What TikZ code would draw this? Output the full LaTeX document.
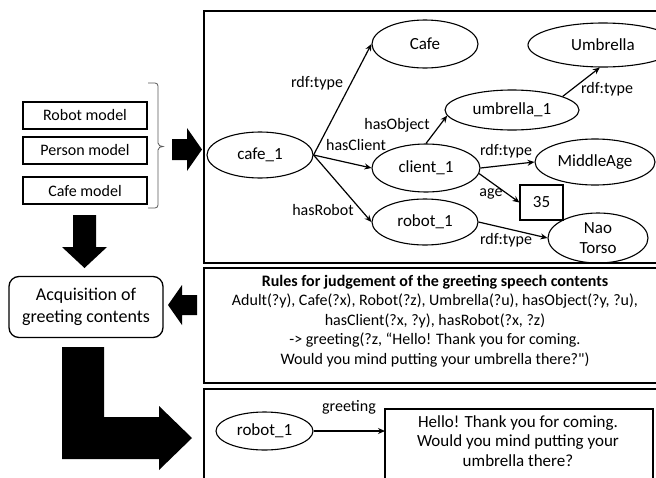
\documentclass[tikz,border=0pt]{standalone}
\usepackage{fontspec}
\setmainfont{Carlito}[Ligatures=TeXOff]
\usetikzlibrary{arrows.meta,shapes.geometric}
\begin{document}
\begin{tikzpicture}[x=1pt,y=-1pt,
  every node/.style={font=\fontsize{16}{19.5}\selectfont},
  ell/.style 2 args={draw, ellipse, line width=1.1pt, inner sep=0pt, minimum width=#1, minimum height=#2, font=\fontsize{17}{20}\selectfont},
  box/.style={draw, line width=1.3pt},
  frame/.style={draw, line width=1.4pt},
  lab/.style={inner sep=0pt},
  edge/.style={line width=1.2pt, -{Stealth[length=7pt,width=6pt]}},
  blk/.style={fill=black}]
\clip (0,0) rectangle (656,477);
\fill[white] (0,0) rectangle (656,477);

% left model boxes
\node[box, minimum width=124pt, minimum height=27pt, inner sep=0pt] (robm) at (85,115.5) {Robot model};
\node[box, minimum width=124pt, minimum height=27pt, inner sep=0pt] (perm) at (85,150.5) {Person model};
\node[box, minimum width=124pt, minimum height=27pt, inner sep=0pt] (cafm) at (85,190.5) {Cafe model};
% brace
\draw[line width=0.8pt, gray!70!black] (148,83) -- (155,83) to[out=0,in=90] (158,86) -- (158,143) to[out=270,in=180] (163,146.5) to[out=180,in=90] (158,150) -- (158,205) to[out=270,in=0] (155,208) -- (148,208);

% block arrows
\fill[blk] (172,139) -- (187,139) -- (187,128) -- (202,149.5) -- (187,171) -- (187,160) -- (172,160) -- cycle;
\fill[blk] (73,215) -- (96,215) -- (96,247) -- (107,247) -- (84.5,268) -- (62,247) -- (73,247) -- cycle;
\fill[blk] (197,295) -- (182,295) -- (182,285) -- (168,305) -- (182,325) -- (182,315) -- (197,315) -- cycle;
\fill[blk] (62,347) -- (104,347) -- (104,417) -- (159,417) -- (159,406) -- (192,438) -- (159,470) -- (159,459) -- (62,459) -- cycle;

% acquisition box
\node[draw, line width=1.3pt, rounded corners=10pt, minimum width=154pt, minimum height=61pt, align=center, inner sep=0pt, font=\fontsize{18}{22.5}\selectfont] (acq) at (86,307) {Acquisition of\\greeting contents};

% frames
\draw[frame] (670,11) -- (204,11) -- (204,263) -- (670,263);
\draw[frame] (670,268) -- (204,268) -- (204,383) -- (670,383);
\draw[frame] (670,389) -- (204,389) -- (204,490);

% ontology graph
\node[ell={106pt}{46pt}] (cafe1) at (260,155) {cafe\_1};
\node[ell={106pt}{48pt}] (Cafe) at (425,44) {Cafe};
\node[ell={150pt}{44pt}] (Umb) at (603,45) {Umbrella};
\node[ell={134pt}{40pt}] (umb1) at (512,110) {umbrella\_1};
\node[ell={108pt}{48pt}] (client1) at (426,168) {client\_1};
\node[ell={120pt}{46pt}] (Mid) at (595,162) {MiddleAge};
\node[draw, line width=1.1pt, minimum width=43pt, minimum height=35pt, inner sep=0pt, font=\fontsize{17}{20}\selectfont] (n35) at (541.5,202.5) {35};
\node[ell={106pt}{46pt}] (robot1) at (425,222) {robot\_1};
\node[ell={100pt}{50pt}, align=center] (nao) at (598,238) {Nao\\Torso};

\draw[edge] (cafe1.east) -- (Cafe.west);
\draw[edge] (cafe1.east) -- (client1.west);
\draw[edge] (cafe1.east) -- (robot1.west);
\draw[edge] (client1.north) -- (umb1.185);
\draw[edge] (umb1.15) -- (Umb.262);
\draw[edge] (client1.east) -- (Mid.west);
\draw[edge] (client1.-6) -- (n35.west);
\draw[edge] (robot1.east) -- (nao.west);

\node[lab] (l1) at (317,83) {rdf:type};
\node[lab] (l2) at (356,145) {hasClient};
\node[lab] (l3) at (323,210) {hasRobot};
\node[lab] (l4) at (397,125) {hasObject};
\node[lab] (l5) at (607,89) {rdf:type};
\node[lab] (l6) at (506,151) {rdf:type};
\node[lab] (l7) at (491,194) {age};
\node[lab] (l8) at (506,240) {rdf:type};

% rules
\node[align=center, inner sep=0pt] (rules) at (435,321) {\textbf{Rules for judgement of the greeting speech contents}\\
Adult(?y), Cafe(?x), Robot(?z), Umbrella(?u), hasObject(?y, ?u),\\
hasClient(?x, ?y), hasRobot(?x, ?z)\\
-> greeting(?z, “Hello! Thank you for coming.\\
Would you mind putting your umbrella there?")};

% output
\node[ell={97pt}{38pt}] (robot1b) at (264.5,431) {robot\_1};
\draw[line width=1.2pt] (385,490) -- (385,409) -- (653,409) -- (653,490);
\coordinate (msgw) at (385,431);
\node[align=center, inner sep=0pt, font=\fontsize{17}{19.5}\selectfont] (msg) at (518,441) {Hello! Thank you for coming.\\Would you mind putting your\\umbrella there?};
\draw[edge] (robot1b.east) -- (msgw);
\node[lab] (l9) at (349,407) {greeting};
\end{tikzpicture}
\end{document}
